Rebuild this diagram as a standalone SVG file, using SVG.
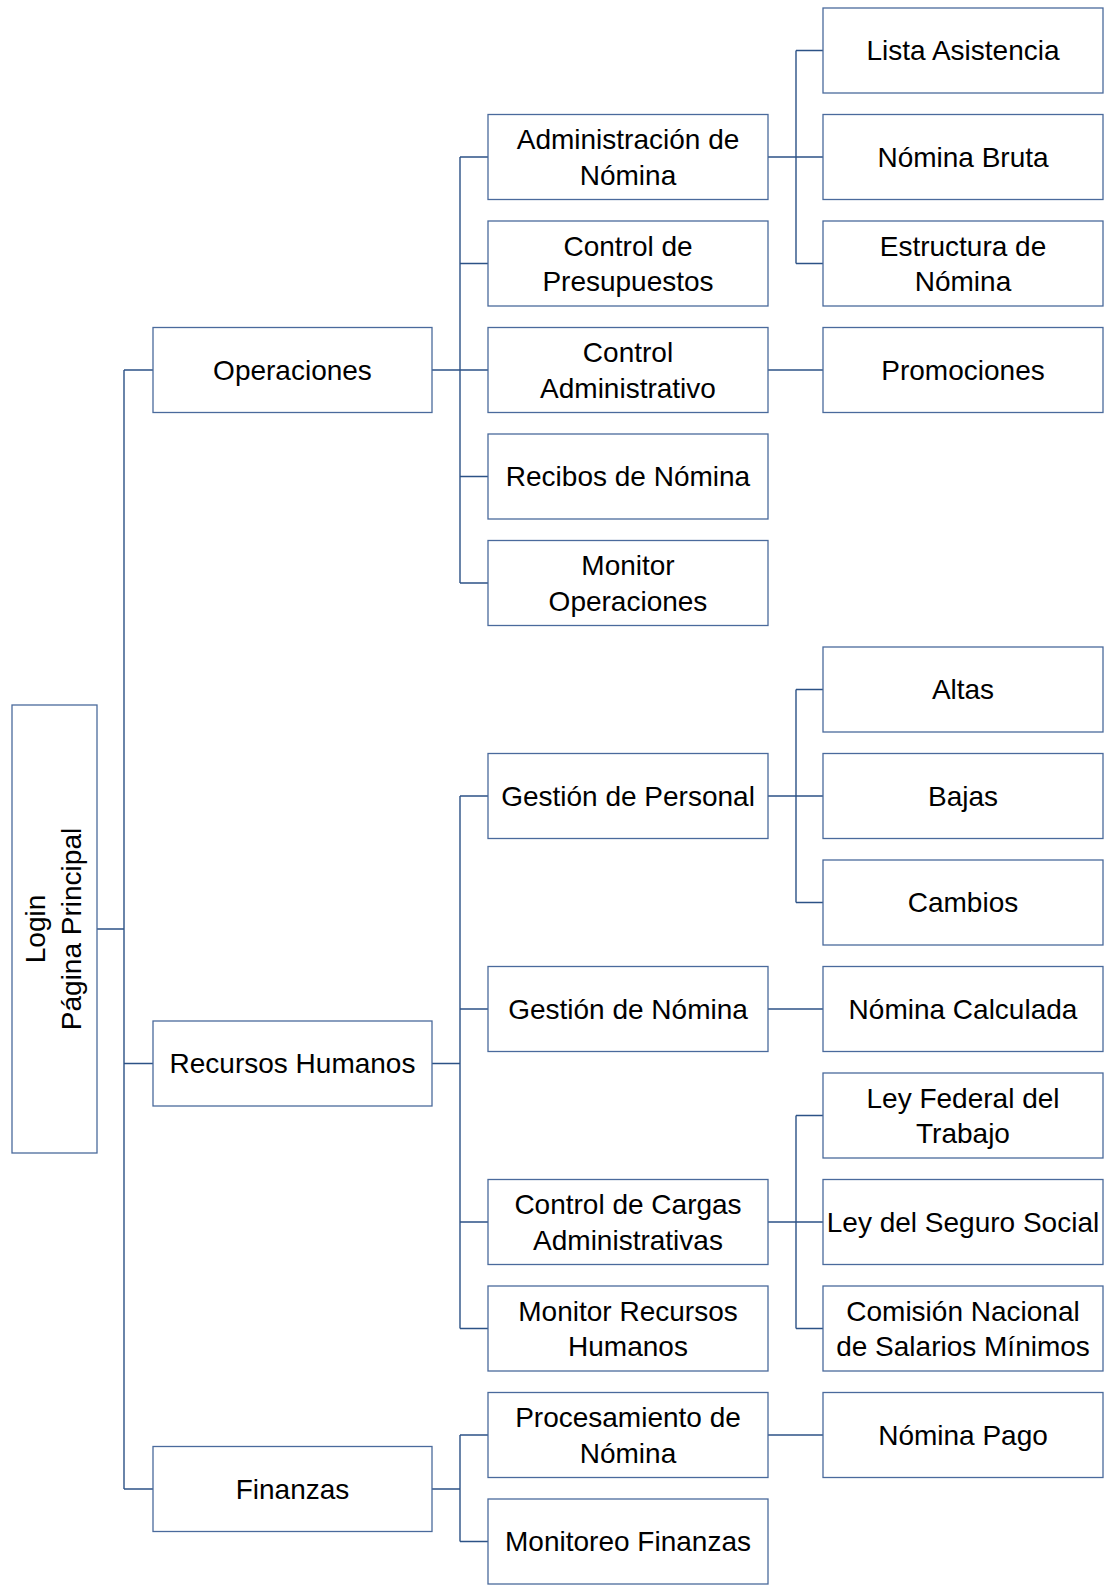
<svg xmlns="http://www.w3.org/2000/svg" width="1107" height="1585" viewBox="0 0 1107 1585">
<style>
.box{fill:#ffffff;stroke:#4a6a9c;stroke-width:1.3}
.c{fill:none;stroke:#2c5286;stroke-width:1.4}
text{font-family:"Liberation Sans",Arial,sans-serif;font-size:28px;fill:#000;text-anchor:middle}
</style>
<rect width="1107" height="1585" fill="#ffffff"/>
<g id="connectors">
<path class="c" d="M97 929H124M124 370V1489M124 370H153M124 1063.5H153M124 1489H153"/>
<path class="c" d="M432 370H460M460 157V583M460 157H488M460 263.5H488M460 370H488M460 476.5H488M460 583H488"/>
<path class="c" d="M768 157H796M796 50.5V263.5M796 50.5H823M796 157H823M796 263.5H823"/>
<path class="c" d="M768 370H823"/>
<path class="c" d="M432 1063.5H460M460 796V1328.5M460 796H488M460 1009H488M460 1222H488M460 1328.5H488"/>
<path class="c" d="M768 796H796M796 689.5V902.5M796 689.5H823M796 796H823M796 902.5H823"/>
<path class="c" d="M768 1009H823"/>
<path class="c" d="M768 1222H796M796 1115.5V1328.5M796 1115.5H823M796 1222H823M796 1328.5H823"/>
<path class="c" d="M432 1489H460M460 1435V1541.5M460 1435H488M460 1541.5H488"/>
<path class="c" d="M768 1435H823"/>
</g>
<g id="login"><rect class="box" x="12" y="705" width="85" height="448"/><text transform="translate(54.5 929) rotate(-90)"><tspan x="0" y="-10">Login</tspan><tspan x="0" y="26">Página Principal</tspan></text></g>
<g id="operaciones"><rect class="box" x="153" y="327.5" width="279" height="85"/><text x="292.5" y="379.5">Operaciones</text></g>
<g id="recursos-humanos"><rect class="box" x="153" y="1021" width="279" height="85"/><text x="292.5" y="1073">Recursos Humanos</text></g>
<g id="finanzas"><rect class="box" x="153" y="1446.5" width="279" height="85"/><text x="292.5" y="1498.5">Finanzas</text></g>
<g id="admin-nomina"><rect class="box" x="488" y="114.5" width="280" height="85"/><text><tspan x="628" y="149">Administración de</tspan><tspan x="628" y="184.5">Nómina</tspan></text></g>
<g id="control-presupuestos"><rect class="box" x="488" y="221" width="280" height="85"/><text><tspan x="628" y="255.5">Control de</tspan><tspan x="628" y="291">Presupuestos</tspan></text></g>
<g id="control-administrativo"><rect class="box" x="488" y="327.5" width="280" height="85"/><text><tspan x="628" y="362">Control</tspan><tspan x="628" y="397.5">Administrativo</tspan></text></g>
<g id="recibos-nomina"><rect class="box" x="488" y="434" width="280" height="85"/><text x="628" y="486">Recibos de Nómina</text></g>
<g id="monitor-operaciones"><rect class="box" x="488" y="540.5" width="280" height="85"/><text><tspan x="628" y="575">Monitor</tspan><tspan x="628" y="610.5">Operaciones</tspan></text></g>
<g id="gestion-personal"><rect class="box" x="488" y="753.5" width="280" height="85"/><text x="628" y="805.5">Gestión de Personal</text></g>
<g id="gestion-nomina"><rect class="box" x="488" y="966.5" width="280" height="85"/><text x="628" y="1018.5">Gestión de Nómina</text></g>
<g id="control-cargas"><rect class="box" x="488" y="1179.5" width="280" height="85"/><text><tspan x="628" y="1214">Control de Cargas</tspan><tspan x="628" y="1249.5">Administrativas</tspan></text></g>
<g id="monitor-rh"><rect class="box" x="488" y="1286" width="280" height="85"/><text><tspan x="628" y="1320.5">Monitor Recursos</tspan><tspan x="628" y="1356">Humanos</tspan></text></g>
<g id="procesamiento-nomina"><rect class="box" x="488" y="1392.5" width="280" height="85"/><text><tspan x="628" y="1427">Procesamiento de</tspan><tspan x="628" y="1462.5">Nómina</tspan></text></g>
<g id="monitoreo-finanzas"><rect class="box" x="488" y="1499" width="280" height="85"/><text x="628" y="1551">Monitoreo Finanzas</text></g>
<g id="lista-asistencia"><rect class="box" x="823" y="8" width="280" height="85"/><text x="963" y="60">Lista Asistencia</text></g>
<g id="nomina-bruta"><rect class="box" x="823" y="114.5" width="280" height="85"/><text x="963" y="166.5">Nómina Bruta</text></g>
<g id="estructura-nomina"><rect class="box" x="823" y="221" width="280" height="85"/><text><tspan x="963" y="255.5">Estructura de</tspan><tspan x="963" y="291">Nómina</tspan></text></g>
<g id="promociones"><rect class="box" x="823" y="327.5" width="280" height="85"/><text x="963" y="379.5">Promociones</text></g>
<g id="altas"><rect class="box" x="823" y="647" width="280" height="85"/><text x="963" y="699">Altas</text></g>
<g id="bajas"><rect class="box" x="823" y="753.5" width="280" height="85"/><text x="963" y="805.5">Bajas</text></g>
<g id="cambios"><rect class="box" x="823" y="860" width="280" height="85"/><text x="963" y="912">Cambios</text></g>
<g id="nomina-calculada"><rect class="box" x="823" y="966.5" width="280" height="85"/><text x="963" y="1018.5">Nómina Calculada</text></g>
<g id="ley-federal"><rect class="box" x="823" y="1073" width="280" height="85"/><text><tspan x="963" y="1107.5">Ley Federal del</tspan><tspan x="963" y="1143">Trabajo</tspan></text></g>
<g id="ley-seguro"><rect class="box" x="823" y="1179.5" width="280" height="85"/><text x="963" y="1231.5">Ley del Seguro Social</text></g>
<g id="comision"><rect class="box" x="823" y="1286" width="280" height="85"/><text><tspan x="963" y="1320.5">Comisión Nacional</tspan><tspan x="963" y="1356">de Salarios Mínimos</tspan></text></g>
<g id="nomina-pago"><rect class="box" x="823" y="1392.5" width="280" height="85"/><text x="963" y="1444.5">Nómina Pago</text></g>
</svg>
